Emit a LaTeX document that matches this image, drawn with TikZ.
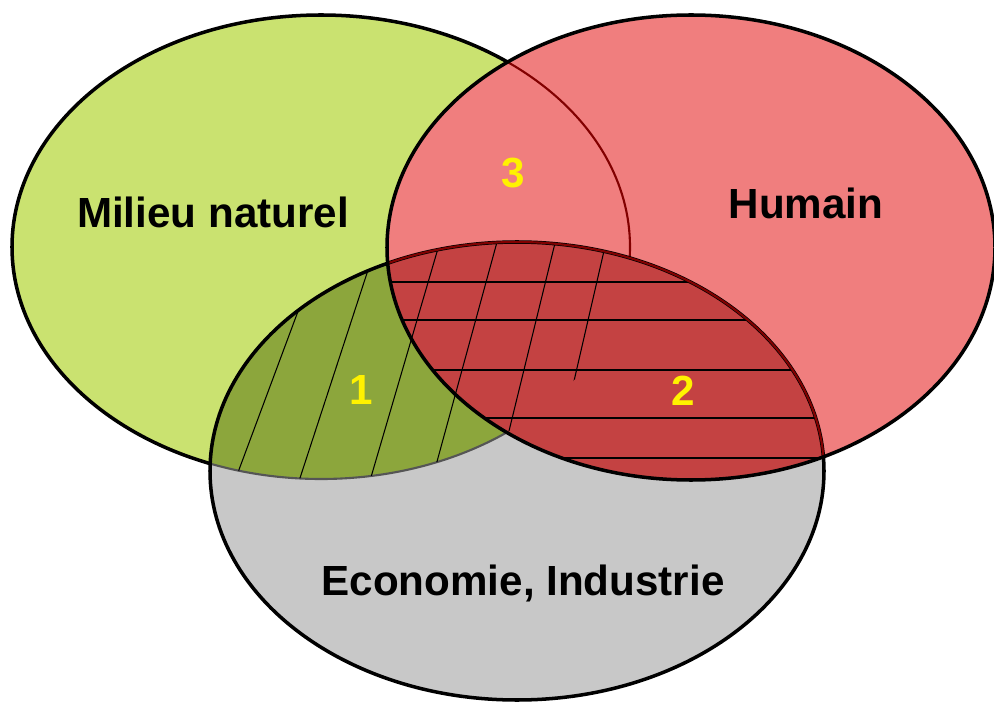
\documentclass[tikz,border=0pt]{standalone}
\usepackage{fontspec}
\setmainfont{Liberation Sans}
\usepackage{tikz}
\usetikzlibrary{positioning}
\definecolor{naturel}{RGB}{202,226,112}
\definecolor{humainred}{RGB}{240,126,126}
\definecolor{ecogray}{RGB}{200,200,200}
\definecolor{olivezone}{RGB}{140,166,60}
\definecolor{redzone}{RGB}{196,66,66}
\definecolor{bordred}{RGB}{130,0,0}
\definecolor{bordgray}{RGB}{85,85,85}
\tikzstyle{outline} = [draw=black, line width=2pt]
\tikzstyle{redborder} = [draw=bordred, line width=1.2pt]
\tikzstyle{grayborder} = [draw=bordgray, line width=1.2pt]
\tikzstyle{hatch} = [draw=black, line width=0.6pt]
\tikzstyle{setname} = [anchor=base, text=black, font=\fontsize{24}{28}\selectfont\bfseries]
\tikzstyle{zonenum} = [anchor=base, text=yellow, font=\fontsize{24}{28}\selectfont\bfseries]
\def\milieupath{(321,247) ellipse [x radius=309, y radius=232]}
\def\humainpath{(691,247.5) ellipse [x radius=304, y radius=232.5]}
\def\ecopath{(517,471) ellipse [x radius=307, y radius=229]}

\begin{document}
\begin{tikzpicture}[x=0.02cm, y=-0.02cm]
\useasboundingbox (0,0) rectangle (994,702);
% milieu naturel
\fill[naturel] \milieupath;
\path[outline] \milieupath;
% humain
\fill[humainred] \humainpath;
\begin{scope}
\clip \humainpath;
\path[redborder] \milieupath;
\end{scope}
% economie
\fill[ecogray] \ecopath;
\begin{scope}
\clip \ecopath;
\fill[olivezone] \milieupath;
\path[grayborder] \milieupath;
\fill[redzone] \humainpath;
\end{scope}
% zone 1 hatching
\begin{scope}
\clip \ecopath;
\clip \milieupath;
\draw[hatch] (227.7,500) -- (328.3,230);
\draw[hatch] (292.8,500) -- (381.1,230);
\draw[hatch] (364.3,500) -- (443.4,230);
\draw[hatch] (426.5,500) -- (500.3,230);
\draw[hatch] (492.1,500) -- (558.2,230);
\draw[hatch] (546.6,500) -- (608.8,230);
\end{scope}
% zone 2 hatching
\begin{scope}
\clip \ecopath;
\clip \humainpath;
\foreach \y in {282,320,370,418,458}
  \draw[hatch] (380,\y) -- (840,\y);
\end{scope}
% borders on top
\path[outline] \ecopath;
\begin{scope}
\clip \humainpath;
\path[redborder] \ecopath;
\end{scope}
\path[outline] \humainpath;
% texts
\node[setname] (milieu) at (213,228) {Milieu naturel};
\node[setname] (humain) at (806,219) {Humain};
\node[setname] (economie) at (523,595) {Economie, Industrie};
\node[zonenum] (n1) at (361,405) {1};
\node[zonenum] (n2) at (683,406) {2};
\node[zonenum] (n3) at (513,188) {3};
\end{tikzpicture}
\end{document}
